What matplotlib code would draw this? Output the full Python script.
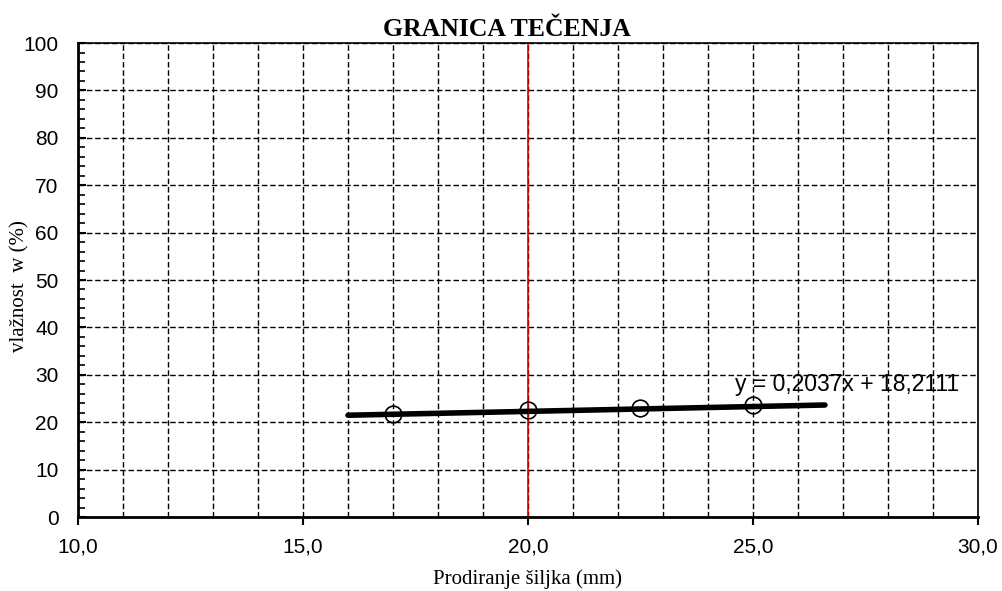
import matplotlib
matplotlib.use('Agg')
import matplotlib.pyplot as plt
from matplotlib.ticker import MultipleLocator, FuncFormatter

# measured points
prodiranje = [17.0, 20.0, 22.5, 25.0]
vlaznost = [21.8, 22.5, 23.0, 23.7]

# linear trend shown on chart
slope = 0.2037
intercept = 18.2111
trend_x = [16.0, 26.6]
trend_y = [slope * x + intercept for x in trend_x]

plt.rcParams['font.family'] = ['Liberation Sans', 'DejaVu Sans']
serif = ['Liberation Serif', 'DejaVu Serif']

fig = plt.figure(figsize=(10.03, 5.91), dpi=100)
ax = fig.add_axes([0.0778, 0.1252, 0.8972, 0.802])

ax.set_xlim(10, 30)
ax.set_ylim(0, 100)

ax.xaxis.set_major_locator(MultipleLocator(5))
ax.xaxis.set_minor_locator(MultipleLocator(1))
ax.yaxis.set_major_locator(MultipleLocator(10))
ax.yaxis.set_minor_locator(MultipleLocator(2))
ax.xaxis.set_major_formatter(FuncFormatter(lambda v, p: f'{v:.1f}'.replace('.', ',')))

ax.grid(True, which='major', axis='y', color='black', linestyle=(0, (4, 2)), linewidth=1)
ax.grid(True, which='minor', axis='x', color='black', linestyle=(0, (4, 2)), linewidth=1)
ax.grid(True, which='major', axis='x', color='black', linestyle=(0, (4, 2)), linewidth=1)

ax.tick_params(axis='x', which='major', direction='out', length=6, width=1.5, labelsize=15, pad=9)
ax.tick_params(axis='x', which='minor', length=0)
ax.tick_params(axis='y', which='major', direction='in', length=6, width=1.5, labelsize=15, pad=14)
ax.tick_params(axis='y', which='minor', direction='in', length=5, width=1.2)

for side in ['left', 'bottom']:
    ax.spines[side].set_linewidth(2)
for side in ['top', 'right']:
    ax.spines[side].set_linewidth(1.2)

ax.axvline(20, color='#e00000', linewidth=1.2)

ax.plot(trend_x, trend_y, color='black', linewidth=4, solid_capstyle='round', zorder=3)
ax.plot(prodiranje, vlaznost, linestyle='none', marker='o', markersize=12,
        markerfacecolor='none', markeredgecolor='black', markeredgewidth=1.2, zorder=4)

ax.text(24.6, 28.0, 'y = 0,2037x + 18,2111', fontsize=16.5, ha='left', va='center')

fig.text(507 / 1003, 1 - 29 / 591, 'GRANICA TEČENJA', family=serif, fontsize=18.5,
         fontweight='bold', ha='center', va='center')
ax.set_xlabel('Prodiranje šiljka (mm)', family=serif, fontsize=15, labelpad=9)
fig.text(20 / 1003, 1 - 286 / 591, 'vlažnost  w (%)', family=serif, fontsize=15,
         rotation=90, ha='center', va='center')

fig.savefig('out.png', dpi=100)
